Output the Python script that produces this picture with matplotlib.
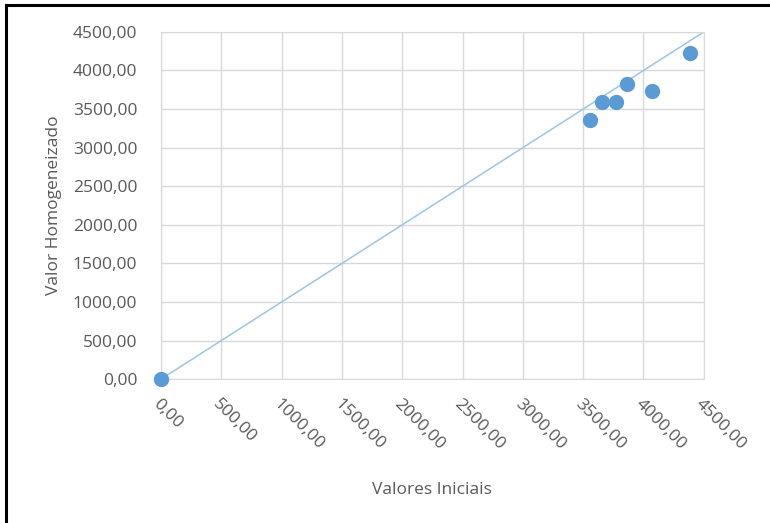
import matplotlib.pyplot as plt
import numpy as np
from matplotlib.ticker import FuncFormatter, MultipleLocator
from matplotlib.lines import Line2D

# valores
valores_iniciais = [0, 3556, 3660, 3771, 3861, 4068, 4382]
valor_homogeneizado = [0, 3363, 3596, 3596, 3830, 3739, 4224]
linha_x = [0, 4500]
linha_y = [0, 4500]

plt.rcParams['font.family'] = ['Open Sans', 'DejaVu Sans']

fig = plt.figure(figsize=(7.7, 5.23), dpi=100)
ax = fig.add_axes([0.209, 0.275, 0.705, 0.664])

ax.plot(linha_x, linha_y, color='#9DC3E6', lw=1.1, zorder=2)
ax.scatter(valores_iniciais, valor_homogeneizado, s=100, color='#5B9BD5', zorder=3,
           clip_on=False)

ax.set_xlim(0, 4500)
ax.set_ylim(0, 4500)
ax.xaxis.set_major_locator(MultipleLocator(500))
ax.yaxis.set_major_locator(MultipleLocator(500))

fmt = FuncFormatter(lambda v, p: '{:.2f}'.format(v).replace('.', ','))
ax.xaxis.set_major_formatter(fmt)
ax.yaxis.set_major_formatter(fmt)

ax.grid(True, color='#D9D9D9', lw=1)
ax.set_axisbelow(True)
for s in ax.spines.values():
    s.set_color('#D9D9D9')
ax.tick_params(length=0, colors='#595959', labelsize=12.5)
ax.tick_params(axis='y', pad=17)
ax.tick_params(axis='x', pad=12)
for lab in ax.get_xticklabels():
    lab.set_rotation(-45)
    lab.set_ha('left')
    lab.set_va('top')
    lab.set_rotation_mode('anchor')

ax.set_xlabel('Valores Iniciais', color='#595959', fontsize=12.5, labelpad=21)
ax.set_ylabel('Valor Homogeneizado', color='#595959', fontsize=12.5, labelpad=8)

# moldura (esquerda e topo)
fig.add_artist(Line2D([6 / 770, 6 / 770], [0, 1 - 5 / 523], color='black', lw=2.2,
                      transform=fig.transFigure))
fig.add_artist(Line2D([6 / 770, 1], [1 - 5 / 523, 1 - 5 / 523], color='black', lw=2.2,
                      transform=fig.transFigure))

fig.savefig('out.png', dpi=100)
